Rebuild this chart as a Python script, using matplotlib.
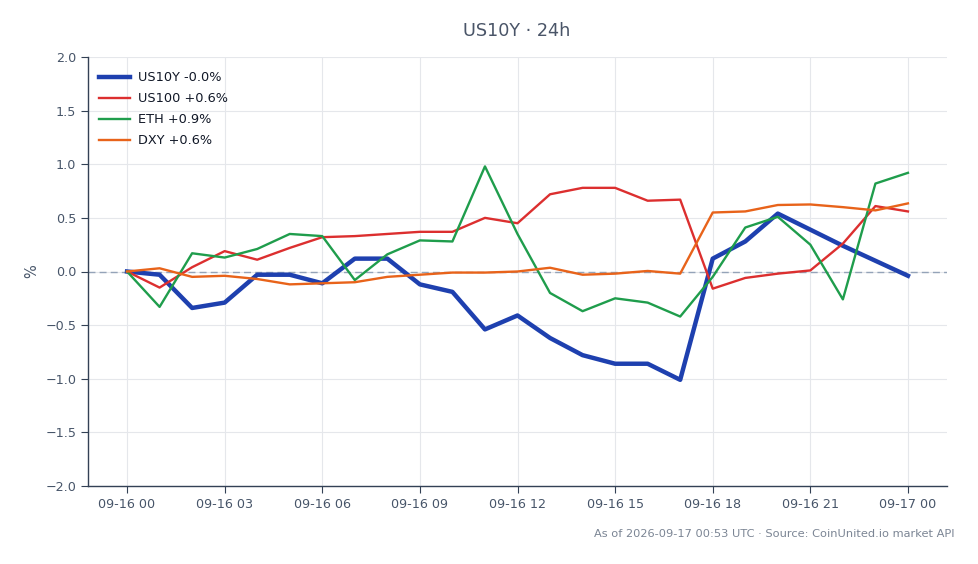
import matplotlib
matplotlib.use("Agg")
import matplotlib.pyplot as plt
import matplotlib.dates as mdates
import pandas as pd

times = pd.date_range("2026-09-16 00:00", "2026-09-17 00:00", freq="h")

us10y = [0.00, -0.03, -0.34, -0.29, -0.03, -0.03, -0.11, 0.12, 0.12, -0.12, -0.19, -0.54,
         -0.41, -0.62, -0.78, -0.86, -0.86, -1.01, 0.12, 0.28, 0.54, 0.39, 0.24, 0.10, -0.04]
us100 = [0.00, -0.15, 0.04, 0.19, 0.11, 0.22, 0.32, 0.33, 0.35, 0.37, 0.37, 0.50,
         0.45, 0.72, 0.78, 0.78, 0.66, 0.67, -0.16, -0.06, -0.02, 0.01, 0.26, 0.61, 0.56]
eth = [0.00, -0.33, 0.17, 0.13, 0.21, 0.35, 0.33, -0.08, 0.16, 0.29, 0.28, 0.98,
       0.35, -0.20, -0.37, -0.25, -0.29, -0.42, -0.05, 0.41, 0.51, 0.25, -0.26, 0.82, 0.92]
dxy = [0.00, 0.03, -0.05, -0.04, -0.07, -0.12, -0.11, -0.10, -0.05, -0.03, -0.01, -0.01,
       0.00, 0.035, -0.03, -0.02, 0.005, -0.02, 0.55, 0.56, 0.62, 0.625, 0.60, 0.57, 0.635]

series = [
    ("US10Y", us10y, "#1e40af", 3.2),
    ("US100", us100, "#dc2f2f", 1.7),
    ("ETH", eth, "#1f9d4c", 1.7),
    ("DXY", dxy, "#e8631a", 1.7),
]

text_c = "#475569"
spine_c = "#334155"

fig = plt.figure(figsize=(9.79, 5.64), dpi=100)
ax = fig.add_axes([88/979, 1-486/564, (947-88)/979, (486-57)/564])

ax.axhline(0, color="#94a3b8", lw=1.0, ls=(0, (5, 3)), zorder=1)
for name, vals, col, lw in series:
    last = vals[-1]
    lab = f"{name} {last:+.1f}%"
    if abs(last) < 0.05 and last < 0:
        lab = f"{name} -0.0%"
    ax.plot(times, vals, color=col, lw=lw, label=lab, zorder=3)

ax.set_ylim(-2, 2)
ax.set_yticks([-2.0, -1.5, -1.0, -0.5, 0.0, 0.5, 1.0, 1.5, 2.0])
ax.margins(x=0.05)
ax.xaxis.set_major_locator(mdates.HourLocator(byhour=range(0, 24, 3)))
ax.xaxis.set_major_formatter(mdates.DateFormatter("%m-%d %H"))
ax.grid(True, color="#e5e7eb", lw=0.8)
ax.set_axisbelow(True)
for s in ["top", "right"]:
    ax.spines[s].set_visible(False)
for s in ["left", "bottom"]:
    ax.spines[s].set_color(spine_c)
    ax.spines[s].set_linewidth(1.0)
ax.tick_params(colors=spine_c, labelcolor=text_c, labelsize=9.2, length=5)
ax.set_ylabel("%", color=text_c, fontsize=10.5)

leg = ax.legend(loc="upper left", bbox_to_anchor=(-0.001, 0.994), frameon=False, fontsize=9.3,
                handlelength=2.4, borderaxespad=0.5, labelspacing=0.62, handletextpad=0.65)
for t in leg.get_texts():
    t.set_color("#111827")

fig.text(517/979, 1-31/564, "US10Y · 24h", ha="center", va="center", fontsize=12.7, color="#4a5568")
fig.text(955/979, 1-534/564, "As of 2026-09-17 00:53 UTC · Source: CoinUnited.io market API",
         ha="right", va="center", fontsize=8.2, color="#7b8594")

fig.savefig("out.png", dpi=100, facecolor="white")
